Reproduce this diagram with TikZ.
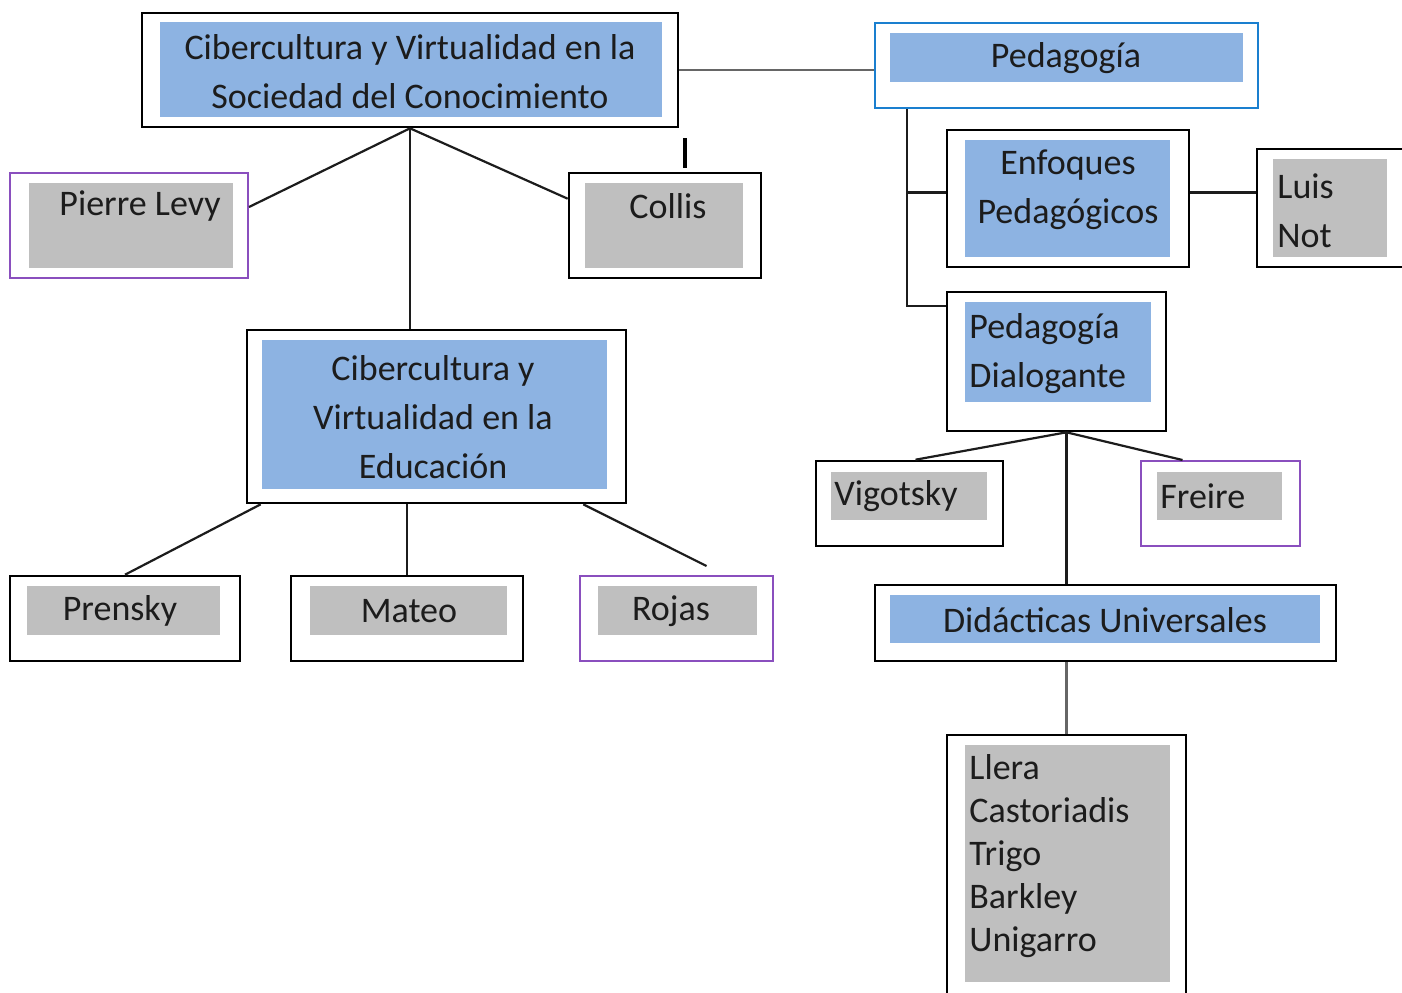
\documentclass[tikz,border=0pt]{standalone}
\usepackage{fontspec}
\setmainfont{Carlito}
\usetikzlibrary{fit,calc}

\definecolor{boxblue}{HTML}{8DB3E2}
\definecolor{boxgray}{HTML}{BFBFBF}
\definecolor{lilac}{HTML}{8A4FBE}
\definecolor{pedblue}{HTML}{1A7FCF}
\definecolor{inkc}{HTML}{1C1C1C}

\begin{document}
\begin{tikzpicture}[x=0.5pt,y=-0.5pt]
		\begin{scope}
		
		\tikzstyle{frame}=[draw=black,
		line width=1.3pt,
		fill=white,
		inner sep=0pt
		]
		\tikzstyle{framep}=[frame, draw=lilac, line width=1pt]
		\tikzstyle{frameb}=[frame, draw=pedblue, line width=1pt]
		\tikzstyle{bluebg}=[fill=boxblue, inner sep=0pt]
		\tikzstyle{graybg}=[fill=boxgray, inner sep=0pt]
		\tikzstyle{txt}=[text=inkc,
		inner sep=0pt,
		align=center,
		font=\fontsize{18}{24.5}\selectfont
		]
		\tikzstyle{conn}=[draw=inkc, line width=1.1pt]
		
		\clip (0,0) rectangle (1402,992);
		\fill[white] (0,0) rectangle (1402,992);
		
		% left part
		\node[frame, fit={(142,13) (678,127)}] (main) {};
		\node[bluebg, fit={(160,22) (662,117)}] (mainIn) {};
		\node[txt] at (410,72) {Cibercultura y Virtualidad en la\\Sociedad del Conocimiento};
		
		\node[framep, fit={(10,173) (248,278)}] (levy) {};
		\node[graybg, fit={(29,183) (233,268)}] (levyIn) {};
		\node[txt] at (140,206) {Pierre Levy};
		
		\node[frame, fit={(569,173) (761,278)}] (collis) {};
		\node[graybg, fit={(585,183) (743,268)}] (collisIn) {};
		\node[txt] at (668,206) {Collis};
		
		\coordinate (tickA) at (685,138);
		\coordinate (tickB) at (685,168);
		\draw[line width=2pt] (tickA) -- (tickB);
		
		\node[frame, fit={(247,330) (626,503)}] (edu) {};
		\node[bluebg, fit={(262,340) (607,489)}] (eduIn) {};
		\node[txt] at (433,417) {Cibercultura y\\Virtualidad en la\\Educación};
		
		\node[frame, fit={(10,576) (240,661)}] (prensky) {};
		\node[graybg, fit={(27,586) (220,635)}] (prenskyIn) {};
		\node[txt] at (120,611) {Prensky};
		
		\node[frame, fit={(291,576) (523,661)}] (mateo) {};
		\node[graybg, fit={(310,586) (507,635)}] (mateoIn) {};
		\node[txt] at (409,611) {Mateo};
		
		\node[framep, fit={(580,576) (773,661)}] (rojas) {};
		\node[graybg, fit={(598,586) (757,635)}] (rojasIn) {};
		\node[txt] at (671,611) {Rojas};
		
		% right part
		\node[frameb, fit={(875,23) (1258,108)}] (ped) {};
		\node[bluebg, fit={(890,33) (1243,82)}] (pedIn) {};
		\node[txt] at (1066,58) {Pedagogía};
		
		\node[frame, fit={(947,130) (1189,267)}] (enf) {};
		\node[bluebg, fit={(965,140) (1170,257)}] (enfIn) {};
		\node[txt] at (1068,190) {Enfoques\\Pedagógicos};
		
		\node[frame, fit={(1257,149) (1410,267)}] (luis) {};
		\node[graybg, fit={(1273,159) (1387,257)}] (luisIn) {};
		\node[txt, align=left, anchor=west] at (1277,211) {Luis\\Not};
		
		\node[frame, fit={(947,292) (1166,431)}] (dial) {};
		\node[bluebg, fit={(965,302) (1151,402)}] (dialIn) {};
		\node[txt, align=left, anchor=west] at (969,354) {Pedagogía\\Dialogante};
		
		\node[frame, fit={(816,461) (1003,546)}] (vig) {};
		\node[graybg, fit={(831,472) (987,520)}] (vigIn) {};
		\node[txt, anchor=west] at (834,496) {Vigotsky};
		
		\node[framep, fit={(1141,461) (1300,546)}] (freire) {};
		\node[graybg, fit={(1157,472) (1282,520)}] (freireIn) {};
		\node[txt, anchor=west] at (1160,496) {Freire};
		
		\node[frame, fit={(875,585) (1336,661)}] (did) {};
		\node[bluebg, fit={(890,595) (1320,643)}] (didIn) {};
		\node[txt] at (1105,620) {Didácticas Universales};
		
		\node[frame, fit={(947,735) (1186,1000)}] (llera) {};
		\node[graybg, fit={(965,745) (1170,982)}] (lleraIn) {};
		\node[txt, align=left, anchor=west, font=\fontsize{18}{21.4}\selectfont] at (969,856) {Llera\\Castoriadis\\Trigo\\Barkley\\Unigarro};
		
		% connectors
		\draw[conn] (main.south) -- ($(levy.north east)+(0,35)$);
		\draw[conn] (main.south) -- ($(collis.north west)+(0,27)$);
		\draw[conn] (main.south) -- (main.south |- edu.north);
		
		\draw[conn] ($(edu.south west)+(15,0)$) -- (prensky.north);
		\draw[conn] (mateo.north |- edu.south) -- (mateo.north);
		\draw[conn] ($(edu.south east)+(-44,0)$) -- ($(rojas.north)+(30,-9)$);
		
		\draw[draw=gray!80!black, line width=1.2pt] (main.east) -- (main.east -| ped.west);
		\coordinate (trunk) at ($(ped.south west)+(33,0)$);
		\coordinate (enfL) at ($(enf.west)+(0,-6)$);
		\coordinate (enfR) at ($(enf.east)+(0,-6)$);
		\draw[conn] (trunk) |- (enfL);
		\draw[conn] (trunk) |- ($(dial.north west)+(0,15)$);
		\draw[conn] (enfR) -- (enfR -| luis.west);
		
		\coordinate (dialB) at ($(dial.south)+(10,0)$);
		\draw[conn] (dialB) -- ($(vig.north)+(6,0)$);
		\draw[conn] (dialB) -- ($(freire.north)+(-38,0)$);
		\draw[conn] (dialB) -- (dialB |- did.north);
		\draw[draw=gray!80!black, line width=1.2pt] (llera.north |- did.south) -- (llera.north);
		
		\end{scope}
\end{tikzpicture}
\end{document}
